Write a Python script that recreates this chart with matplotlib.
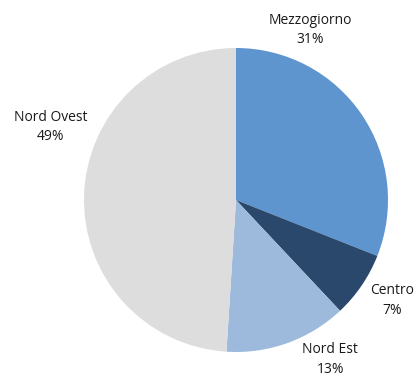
import matplotlib
matplotlib.use("Agg")
import matplotlib.pyplot as plt

categories = ["Mezzogiorno", "Centro", "Nord Est", "Nord Ovest"]
values = [31, 7, 13, 49]
colors = ["#5f95cf", "#2a486c", "#9dbadc", "#dddddd"]
label_pos = [(0.49, 1.12), (1.03, -0.66), (0.62, -1.05), (-1.22, 0.48)]

W, H = 417, 378
fig = plt.figure(figsize=(W / 100, H / 100), dpi=100)
cx, cy, r = 236, 200, 152
ax = fig.add_axes([(cx - r) / W, (H - cy - r) / H, 2 * r / W, 2 * r / H])
ax.pie(values, colors=colors, startangle=90, counterclock=False, radius=1,
       wedgeprops=dict(linewidth=0))
ax.set_xlim(-1, 1)
ax.set_ylim(-1, 1)
ax.set_aspect("equal")
ax.axis("off")

for cat, v, (x, y) in zip(categories, values, label_pos):
    ax.text(x, y, f"{cat}\n{v}%", ha="center", va="center", fontsize=10,
            family=["Open Sans", "DejaVu Sans"], color="#1a1a1a",
            linespacing=1.4, clip_on=False)

fig.savefig("out.png", dpi=100)
